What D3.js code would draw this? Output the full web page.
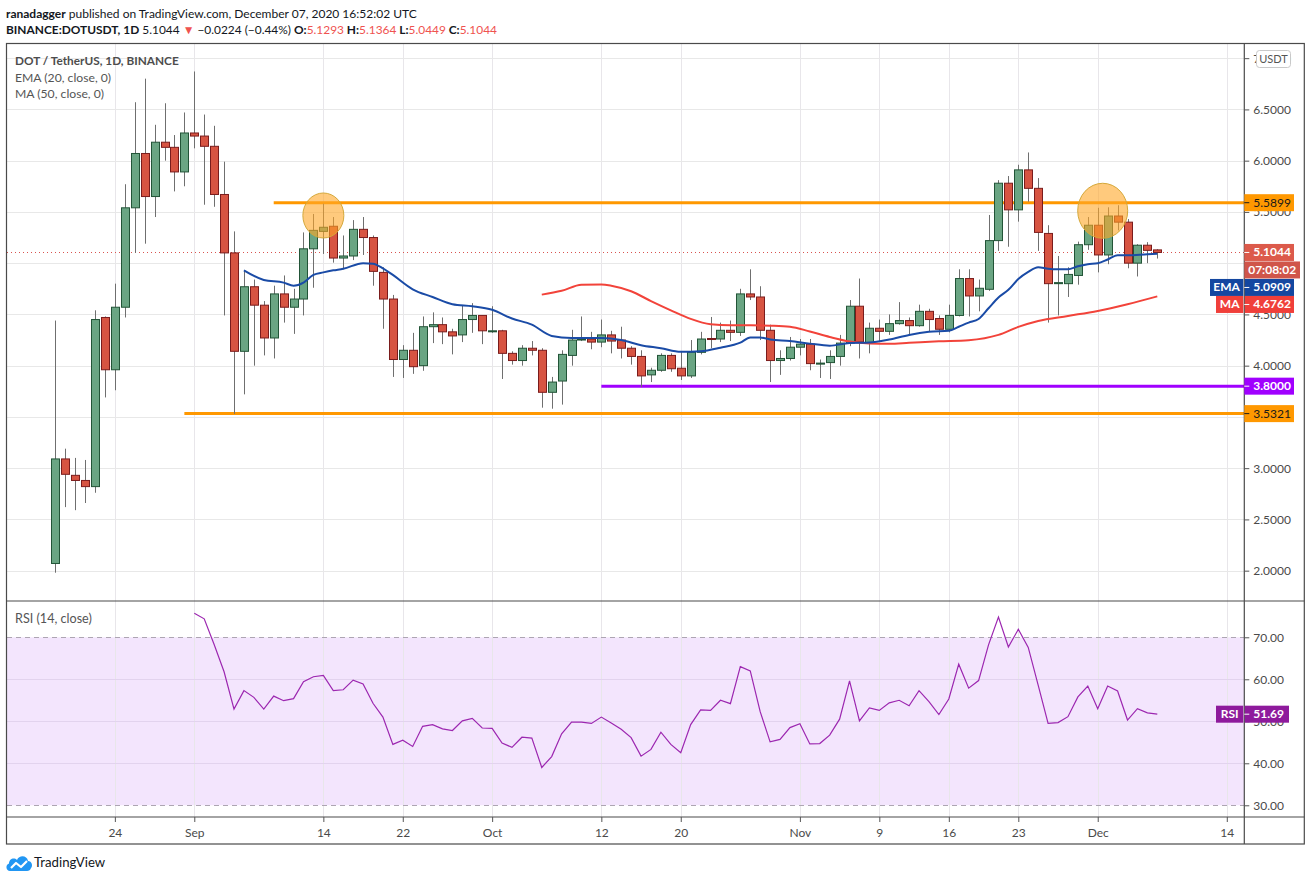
<!DOCTYPE html>
<html><head><meta charset="utf-8">
<script src="https://cdn.jsdelivr.net/npm/d3@7"></script>
<style>
body{margin:0;background:#fff;}
svg{display:block;font-family:Lato,"Open Sans","Noto Sans",sans-serif;}
</style></head><body>
<svg id="c" width="1311" height="881"></svg>
<script>
// ---------------- DATA ----------------
const firstDay = "2020-08-18";
const lastDay = "2020-12-07";
const opens = [2.07,3.09,2.93,2.88,2.82,4.47,3.96,4.57,5.54,6.07,5.65,6.18,6.13,5.89,
 6.27,6.24,6.14,5.67,5.10,4.14,4.77,4.59,4.27,4.70,4.57,4.65,5.14,5.31,5.36,5.05,5.07,5.33,5.25,4.91,4.65,4.06,4.15,4.00,4.38,4.40,4.33,4.30,4.45,4.49,
 4.335,4.34,4.12,4.05,4.17,4.15,3.74,3.85,4.10,4.25,4.26,4.23,4.30,4.25,4.17,4.09,3.91,3.955,4.10,3.975,3.90,4.13,4.265,4.26,4.345,4.325,4.70,4.67,4.345,4.05,4.07,
 4.18,4.21,4.015,4.03,4.09,4.22,4.58,4.22,4.365,4.335,4.41,4.44,4.39,4.53,4.46,4.355,4.49,4.85,4.68,4.745,5.22,5.78,5.52,5.91,5.73,5.29,4.80,4.80,4.88,5.18,
 5.37,5.08,5.46,5.40,5.00,5.175,5.1293];
const highs = [4.44,3.19,3.10,3.08,4.54,4.48,4.80,5.77,6.57,6.80,6.35,6.56,6.25,6.47,
 6.87,6.45,6.34,5.99,5.31,4.93,4.84,4.63,4.78,4.88,4.75,5.30,5.48,5.58,5.45,5.27,5.42,5.45,5.27,4.96,4.69,4.20,4.32,4.48,4.52,4.47,4.36,4.59,4.61,4.49,
 4.58,4.35,4.14,4.20,4.24,4.17,3.89,4.15,4.35,4.48,4.33,4.45,4.34,4.38,4.19,4.15,3.98,4.12,4.12,4.14,4.25,4.33,4.475,4.42,4.44,4.75,4.94,4.775,4.40,4.15,4.28,
 4.26,4.26,4.06,4.15,4.30,4.64,4.85,4.42,4.45,4.50,4.62,4.47,4.595,4.555,4.49,4.595,4.94,4.94,4.84,5.47,5.81,5.85,5.96,6.08,5.83,5.37,5.07,4.96,5.21,5.45,
 5.54,5.545,5.565,5.43,5.185,5.205,5.1364];
const lows = [1.98,2.62,2.59,2.66,2.76,3.69,3.76,4.47,5.10,5.19,5.45,6.00,5.70,5.75,
 6.12,5.57,5.55,4.49,3.53,3.72,4.00,4.10,4.07,4.42,4.31,4.49,4.76,5.09,5.005,4.94,5.03,5.08,4.78,4.36,3.89,3.88,3.92,3.95,4.22,4.21,4.11,4.23,4.32,4.21,
 4.32,3.87,4.01,4.00,4.10,3.59,3.58,3.62,4.00,4.24,4.16,4.18,4.12,4.07,4.01,3.79,3.84,3.94,3.94,3.86,3.88,4.11,4.17,4.23,4.24,4.29,4.64,4.25,3.84,3.91,4.05,
 4.10,3.955,3.88,3.87,4.00,4.19,4.07,4.12,4.23,4.30,4.40,4.30,4.38,4.335,4.30,4.325,4.48,4.48,4.53,4.73,5.12,5.16,5.405,5.60,5.12,4.42,4.49,4.67,4.79,5.13,
 4.91,4.99,5.32,4.95,4.87,5.00,5.0449];
const closes = [3.09,2.94,2.88,2.82,4.45,3.96,4.57,5.54,6.07,5.65,6.18,6.13,5.89,6.27,
 6.24,6.14,5.67,5.10,4.14,4.77,4.59,4.27,4.70,4.57,4.65,5.14,5.32,5.35,5.05,5.07,5.33,5.25,4.92,4.65,4.06,4.15,3.99,4.38,4.40,4.33,4.29,4.45,4.49,4.34,
 4.34,4.12,4.05,4.17,4.15,3.74,3.84,4.11,4.25,4.26,4.23,4.30,4.24,4.17,4.09,3.90,3.955,4.10,3.97,3.90,4.13,4.26,4.255,4.345,4.325,4.70,4.67,4.345,4.05,4.07,4.18,
 4.21,4.02,4.025,4.09,4.22,4.58,4.23,4.365,4.335,4.41,4.44,4.39,4.53,4.45,4.355,4.49,4.85,4.68,4.755,5.22,5.78,5.52,5.91,5.73,5.30,4.80,4.81,4.89,5.18,5.37,
 5.08,5.46,5.40,5.00,5.175,5.125,5.1044];

const emaDates = ["2020-09-06","2020-09-08","2020-09-10","2020-09-11","2020-09-12","2020-09-13","2020-09-14","2020-09-15","2020-09-16","2020-09-18","2020-09-19","2020-09-20","2020-09-21","2020-09-23","2020-09-25","2020-09-27","2020-09-29","2020-10-01","2020-10-03","2020-10-05","2020-10-07","2020-10-09","2020-10-12","2020-10-14","2020-10-16","2020-10-18","2020-10-20","2020-10-22","2020-10-24","2020-10-26","2020-10-27","2020-10-28","2020-10-29","2020-10-31","2020-11-02","2020-11-04","2020-11-06","2020-11-08","2020-11-10","2020-11-12","2020-11-14","2020-11-16","2020-11-17","2020-11-18","2020-11-19","2020-11-20","2020-11-21","2020-11-22","2020-11-23","2020-11-24","2020-11-25","2020-11-26","2020-11-27","2020-11-28","2020-11-29","2020-11-30","2020-12-01","2020-12-02","2020-12-03","2020-12-04","2020-12-06","2020-12-07"];
const emaValues = [4.93,4.836,4.81,4.78,4.81,4.885,4.91,4.93,4.945,5.00,4.995,4.95,4.885,4.745,4.67,4.60,4.58,4.545,4.46,4.40,4.29,4.27,4.27,4.25,4.20,4.17,4.135,4.14,4.175,4.225,4.275,4.275,4.255,4.24,4.215,4.195,4.22,4.225,4.255,4.30,4.33,4.34,4.38,4.42,4.455,4.56,4.665,4.74,4.845,4.915,4.96,4.945,4.94,4.94,4.97,4.99,5.0,5.036,5.077,5.077,5.087,5.0909];

const maDates = ["2020-10-06","2020-10-08","2020-10-10","2020-10-12","2020-10-13","2020-10-15","2020-10-17","2020-10-19","2020-10-21","2020-10-23","2020-10-25","2020-10-27","2020-10-29","2020-10-31","2020-11-02","2020-11-04","2020-11-06","2020-11-08","2020-11-10","2020-11-12","2020-11-15","2020-11-18","2020-11-21","2020-11-23","2020-11-25","2020-11-28","2020-12-01","2020-12-04","2020-12-07"];
const maValues = [4.693,4.73,4.79,4.792,4.78,4.726,4.63,4.54,4.456,4.404,4.394,4.394,4.39,4.38,4.333,4.28,4.236,4.217,4.214,4.223,4.237,4.248,4.30,4.378,4.436,4.485,4.534,4.60,4.6762];

const rsiStart = "2020-09-01";
const rsiValues = [75.7,74.4,68.3,61.8,52.9,57.3,55.7,52.9,56.0,54.9,55.4,59.4,60.6,60.9,57.3,57.5,59.8,58.9,54.3,51.0,44.5,45.5,44.0,48.8,49.2,48.2,47.8,50.1,50.7,48.4,
 48.3,44.8,43.8,46.2,46.0,39.0,41.6,47.0,49.8,49.8,49.5,51.0,49.6,48.1,46.1,41.7,43.3,47.4,44.5,42.5,49.2,52.7,52.6,55.0,54.2,63.0,62.0,52.3,45.1,45.7,48.5,
 49.4,44.6,44.7,46.7,50.5,59.6,50.1,53.2,52.6,54.4,55.0,53.7,57.3,54.7,51.6,55.3,63.6,57.9,59.7,68.2,74.8,67.7,71.9,67.6,58.6,49.5,49.7,51.1,55.8,58.4,
 53.0,58.4,57.2,50.3,53.0,52.0,51.69];

const levelValues = [5.5899, 3.5321, 3.8];
const levelStarts = ["2020-09-09", "2020-08-31", "2020-10-12"];
const highlightDates = ["2020-09-14T00:00:00Z", "2020-12-01T12:00:00Z"];
const highlightPrices = [5.465, 5.511];

const timeTickDates = ["2020-08-24","2020-09-01","2020-09-14","2020-09-22","2020-10-01","2020-10-12","2020-10-20","2020-11-01","2020-11-09","2020-11-16","2020-11-23","2020-12-01","2020-12-14"];
const timeTickLabels = ["24","Sep","14","22","Oct","12","20","Nov","9","16","23","Dec","14"];
const priceTicks = [2.0,2.5,3.0,3.5,4.0,4.5,5.0,5.5,6.0,6.5,7.0];
const priceTicksCovered = [3.5, 5.0];   // labels hidden behind value badges in the original
const rsiTicks = [30,40,50,60,70];

// ---------------- LAYOUT ----------------
const L = 7, R = 1244.3, T = 43.5, PB = 601, RB = 817, B = 844, FR = 1304.3;
const FONT = 'Lato,"Open Sans","Noto Sans",sans-serif';
const svg = d3.select("#c");
const pd = s => new Date(s.length > 10 ? s : s + "T00:00:00Z");

const days = d3.utcDay.range(pd(firstDay), d3.utcDay.offset(pd(lastDay), 1));
const candles = days.map((d, i) => ({d, o: opens[i], h: highs[i], l: lows[i], c: closes[i]}));
const rsiDays = d3.utcDay.range(pd(rsiStart), d3.utcDay.offset(pd(lastDay), 1));
const rsi = rsiDays.map((d, i) => ({d, v: rsiValues[i]}));
const ema = emaDates.map((s, i) => ({d: pd(s), v: emaValues[i]}));
const ma = maDates.map((s, i) => ({d: pd(s), v: maValues[i]}));

const x = d3.scaleUtc().domain([pd(firstDay), pd(lastDay)]).range([55.3, 1157.3]);
const yP = d3.scaleLinear().domain([1.704, 7.143]).range([PB, T]);
const yR = d3.scaleLinear().domain([27.21, 78.64]).range([RB, PB]);

svg.append("rect").attr("width", 1311).attr("height", 881).attr("fill", "#fff");

const defs = svg.append("defs");
defs.append("clipPath").attr("id", "cp").append("rect").attr("x", L).attr("y", T).attr("width", R - L).attr("height", PB - T);
defs.append("clipPath").attr("id", "cr").append("rect").attr("x", L).attr("y", PB).attr("width", R - L).attr("height", RB - PB);

// RSI band fill
svg.append("rect").attr("x", L).attr("width", R - L)
  .attr("y", yR(70)).attr("height", yR(30) - yR(70)).attr("fill", "#f3e5fd");

// grids
const tickD = timeTickDates.map(pd);
svg.append("g").selectAll("line").data(tickD).join("line")
  .attr("x1", d => Math.round(x(d)) + 0.5).attr("x2", d => Math.round(x(d)) + 0.5)
  .attr("y1", T).attr("y2", RB).attr("stroke", "#e8e6ea").attr("stroke-width", 1);
svg.append("g").selectAll("line").data(priceTicks).join("line")
  .attr("x1", L).attr("x2", R)
  .attr("y1", d => Math.round(yP(d)) + 0.5).attr("y2", d => Math.round(yP(d)) + 0.5)
  .attr("stroke", "#e8e8e8");
svg.append("g").selectAll("line").data([40, 50, 60]).join("line")
  .attr("x1", L).attr("x2", R)
  .attr("y1", d => Math.round(yR(d)) + 0.5).attr("y2", d => Math.round(yR(d)) + 0.5)
  .attr("stroke", "#e2d3ee");
svg.append("g").selectAll("line").data([30, 70]).join("line")
  .attr("x1", L).attr("x2", R)
  .attr("y1", d => Math.round(yR(d)) + 0.5).attr("y2", d => Math.round(yR(d)) + 0.5)
  .attr("stroke", "#ada5b2").attr("stroke-dasharray", "5,4");

// price pane content
const pg = svg.append("g").attr("clip-path", "url(#cp)");

// horizontal levels
const levelColors = ["#ff9800", "#ff9800", "#a000ff"];
pg.append("g").selectAll("line").data(levelValues).join("line")
  .attr("x1", (d, i) => x(pd(levelStarts[i]))).attr("x2", R)
  .attr("y1", d => yP(d)).attr("y2", d => yP(d))
  .attr("stroke", (d, i) => levelColors[i]).attr("stroke-width", 3);

// close price dotted line
const lastClose = closes[closes.length - 1];
pg.append("line").attr("x1", L).attr("x2", R)
  .attr("y1", Math.round(yP(lastClose)) + 0.5).attr("y2", Math.round(yP(lastClose)) + 0.5)
  .attr("stroke", "#d9534f").attr("stroke-dasharray", "1,3").attr("stroke-width", 1);

// candles
const cg = pg.append("g");
cg.selectAll("line").data(candles).join("line")
  .attr("x1", d => Math.round(x(d.d)) + 0.5).attr("x2", d => Math.round(x(d.d)) + 0.5)
  .attr("y1", d => yP(d.h)).attr("y2", d => yP(d.l))
  .attr("stroke", "#6f6f6f").attr("stroke-width", 1);
cg.selectAll("rect").data(candles).join("rect")
  .attr("x", d => Math.round(x(d.d)) - 3.5)
  .attr("width", 8)
  .attr("y", d => yP(Math.max(d.o, d.c)))
  .attr("height", d => Math.max(1, Math.abs(yP(d.o) - yP(d.c))))
  .attr("fill", d => d.c >= d.o ? "#6aa583" : "#d75442")
  .attr("stroke", d => d.c >= d.o ? "#225437" : "#7a1c1c")
  .attr("stroke-width", 1);

// EMA / MA
const ln = d3.line().x(d => x(d.d)).y(d => yP(d.v)).curve(d3.curveMonotoneX);
pg.append("path").datum(ma).attr("d", ln).attr("fill", "none").attr("stroke", "#f2433a").attr("stroke-width", 2);
pg.append("path").datum(ema).attr("d", ln).attr("fill", "none").attr("stroke", "#1a4ba6").attr("stroke-width", 2);

// highlight circles
const hr = [[20.5, 22.5], [25, 27.5]];
pg.append("g").selectAll("ellipse").data(highlightDates).join("ellipse")
  .attr("cx", d => x(pd(d))).attr("cy", (d, i) => yP(highlightPrices[i]))
  .attr("rx", (d, i) => hr[i][0]).attr("ry", (d, i) => hr[i][1])
  .attr("fill", "#ffa726").attr("fill-opacity", 0.6)
  .attr("stroke", "#d4a83a").attr("stroke-width", 1);

// RSI line
svg.append("g").attr("clip-path", "url(#cr)").append("path").datum(rsi)
  .attr("d", d3.line().x(d => x(d.d)).y(d => yR(d.v)))
  .attr("fill", "none").attr("stroke", "#9c27b0").attr("stroke-width", 1.2);

// frame
const fc = "#4a4a4a";
svg.append("rect").attr("x", 6.5).attr("y", T).attr("width", FR - 6.5).attr("height", B - T)
  .attr("fill", "none").attr("stroke", fc).attr("stroke-width", 1.2);
svg.append("line").attr("x1", 6.5).attr("x2", FR).attr("y1", PB).attr("y2", PB).attr("stroke", fc).attr("stroke-width", 1.2);
svg.append("line").attr("x1", 6.5).attr("x2", FR).attr("y1", RB).attr("y2", RB).attr("stroke", fc).attr("stroke-width", 1.2);
svg.append("line").attr("x1", R).attr("x2", R).attr("y1", T).attr("y2", B).attr("stroke", fc).attr("stroke-width", 1.2);

// axes
const axStyle = g => {
  g.select(".domain").remove();
  g.selectAll(".tick line").attr("stroke", "#555");
  g.selectAll("text").attr("fill", "#4a4a4a").style("font-size", "12px").style("font-family", FONT);
};
svg.append("g").attr("transform", `translate(0,${RB})`)
  .call(d3.axisBottom(x).tickValues(tickD).tickSize(5).tickPadding(6)
    .tickFormat((d, i) => timeTickLabels[i]))
  .call(axStyle);
svg.append("g").attr("transform", `translate(${R},0)`)
  .call(d3.axisRight(yP).tickValues(priceTicks).tickSize(5).tickPadding(4)
    .tickFormat(d => priceTicksCovered.includes(d) ? "" : d3.format(".4f")(d)))
  .call(axStyle);
svg.append("g").attr("transform", `translate(${R},0)`)
  .call(d3.axisRight(yR).tickValues(rsiTicks).tickSize(5).tickPadding(4).tickFormat(d3.format(".2f")))
  .call(axStyle);

// axis label boxes
function box(yc, x0, x1, fill, txt, col, tick) {
  const g = svg.append("g");
  g.append("rect").attr("x", x0).attr("y", yc - 8.5).attr("width", x1 - x0).attr("height", 17).attr("fill", fill);
  if (tick) g.append("line").attr("x1", R).attr("x2", R + 5).attr("y1", yc).attr("y2", yc).attr("stroke", col).attr("stroke-width", 1);
  g.append("text").attr("x", tick ? R + 9 : (x0 + x1) / 2).attr("y", yc + 4)
    .attr("text-anchor", tick ? "start" : "middle")
    .attr("fill", col).style("font-size", "12px").style("font-weight", col === "#fff" ? 700 : 400).text(txt);
}
const fmt4 = d3.format(".4f");
box(yP(levelValues[0]), R, 1294, "#ff9800", fmt4(levelValues[0]), "#1a1a1a", true);
box(yP(levelValues[2]), R, 1294, "#a000ff", fmt4(levelValues[2]), "#fff", true);
box(yP(levelValues[1]), R, 1294, "#ff9800", fmt4(levelValues[1]), "#1a1a1a", true);
const yc0 = yP(lastClose);
box(yc0, R, 1294, "#dc5a4b", fmt4(lastClose), "#fff", true);
box(yc0 + 17.5, R, 1300, "#d0554a", "07:08:02", "#fff", false);
box(yc0 + 35, R + 0.5, 1294, "#1447a0", fmt4(emaValues[emaValues.length - 1]), "#fff", true);
box(yc0 + 35, 1210, R - 1, "#1447a0", "EMA", "#fff", false);
box(yc0 + 52, R + 0.5, 1294, "#f03f3a", fmt4(maValues[maValues.length - 1]), "#fff", true);
box(yc0 + 52, 1216, R - 1, "#f03f3a", "MA", "#fff", false);
const yr0 = yR(rsiValues[rsiValues.length - 1]);
box(yr0, R + 0.5, 1289, "#8e1a9c", d3.format(".2f")(rsiValues[rsiValues.length - 1]), "#fff", true);
box(yr0, 1216, R - 1, "#8e1a9c", "RSI", "#fff", false);

// USDT badge
svg.append("rect").attr("x", 1256.5).attr("y", 50.5).attr("width", 34).attr("height", 17).attr("rx", 3)
  .attr("fill", "#fff").attr("stroke", "#c9c9c9");
svg.append("text").attr("x", 1273.5).attr("y", 63).attr("text-anchor", "middle").attr("fill", "#555")
  .style("font-size", "11px").text("USDT");

// legends
const lg = svg.append("g").attr("fill", "#555").style("font-size", "12.2px");
lg.append("text").attr("x", 15).attr("y", 65).style("font-weight", 700).style("font-size", "11.8px").attr("fill", "#4d4d4d").text("DOT / TetherUS, 1D, BINANCE");
lg.append("text").attr("x", 15).attr("y", 81.5).text("EMA (20, close, 0)");
lg.append("text").attr("x", 15).attr("y", 98).text("MA (50, close, 0)");
svg.append("text").attr("x", 15).attr("y", 623).attr("fill", "#555").style("font-size", "12.6px").text("RSI (14, close)");

// header
const h1 = svg.append("text").attr("x", 6).attr("y", 18).attr("fill", "#131722").style("font-size", "12px");
h1.append("tspan").style("font-weight", 700).text("ranadagger");
h1.append("tspan").text(" published on TradingView.com, December 07, 2020 16:52:02 UTC");
const h2 = svg.append("text").attr("x", 6).attr("y", 34).attr("fill", "#131722").style("font-size", "11.9px");
const red = "#ef5350";
h2.append("tspan").style("font-weight", 700).text("BINANCE:DOTUSDT, 1D");
h2.append("tspan").text(" " + fmt4(lastClose) + " ");
h2.append("tspan").attr("fill", red).text("\u25BC");
h2.append("tspan").text(" \u22120.0224 (\u22120.44%) ");
h2.append("tspan").style("font-weight", 700).text("O:");
h2.append("tspan").attr("fill", red).text(fmt4(opens[opens.length - 1]));
h2.append("tspan").style("font-weight", 700).text(" H:");
h2.append("tspan").attr("fill", red).text(fmt4(highs[highs.length - 1]));
h2.append("tspan").style("font-weight", 700).text(" L:");
h2.append("tspan").attr("fill", red).text(fmt4(lows[lows.length - 1]));
h2.append("tspan").style("font-weight", 700).text(" C:");
h2.append("tspan").attr("fill", red).text(fmt4(lastClose));

// TradingView logo
const logo = svg.append("g").attr("transform", "translate(6,852)");
logo.append("path").attr("fill", "#2196f3")
  .attr("d", "M4,19 C0,19 -1,13 3,11.5 C3,7 8,5 11,8 C13,3 21,3 22,9 C26,9 27,14 25,16 C24.5,18 23,19 21,19 Z");
logo.append("polyline").attr("points", "5,16 10,11 15,15 21,9").attr("fill", "none").attr("stroke", "#fff").attr("stroke-width", 2.2).attr("stroke-linejoin", "round");
svg.append("text").attr("x", 34).attr("y", 867).attr("fill", "#131722").style("font-size", "13.2px").text("TradingView");
</script>
</body></html>
